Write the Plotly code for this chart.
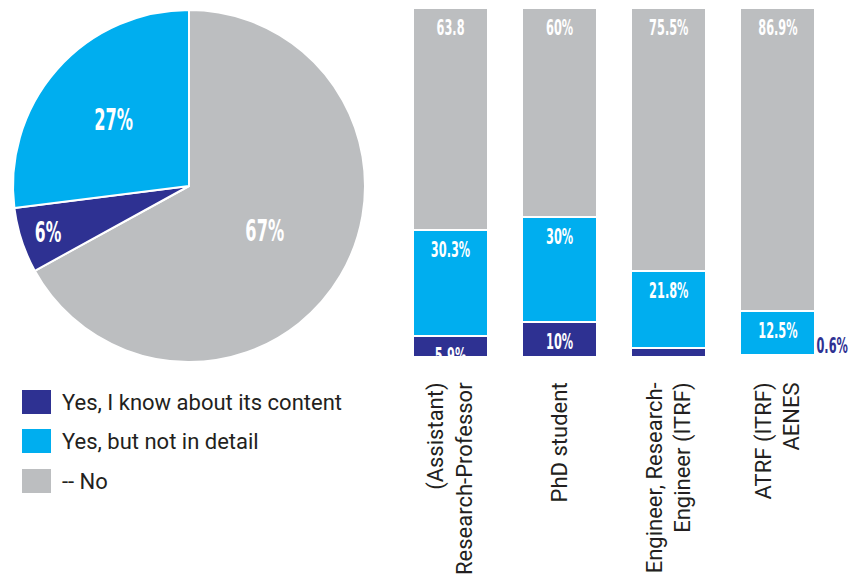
import plotly.graph_objects as go

W, H = 865, 576

# Overall answer shares (pie)
pie_labels = ["-- No", "Yes, I know about its content", "Yes, but not in detail"]
pie_values = [67, 6, 27]

# Breakdown by staff category (stacked bars)
categories = [
    "(Assistant)<br>Research-Professor",
    "PhD student",
    "Engineer, Research-<br>Engineer (ITRF)",
    "ATRF (ITRF)<br>AENES",
]
know_content = [5.9, 10, 2.7, 0.6]
not_in_detail = [30.3, 30, 21.8, 12.5]
no_answer = [63.8, 60, 75.5, 86.9]

know_text = ["5.9%", "10%", "", ""]
detail_text = ["30.3%", "30%", "21.8%", "12.5%"]
no_text = ["63.8", "60%", "75.5%", "86.9%"]

legend_labels = ["Yes, I know about its content", "Yes, but not in detail", "-- No"]

DARK = "#2E3192"
CYAN = "#00AEEF"
GREY = "#BCBEC0"
INK = "#231F20"
NUM_FONT = "DejaVu Sans Condensed"
TXT_FONT = "Roboto, Noto Sans, sans-serif"

colour_of = {"-- No": GREY, "Yes, I know about its content": DARK, "Yes, but not in detail": CYAN}


def px_x(v):
    return v / W


def px_y(v):
    return 1 - v / H


fig = go.Figure()

fig.add_trace(go.Pie(
    labels=pie_labels,
    values=pie_values,
    sort=False,
    direction="clockwise",
    rotation=0,
    marker=dict(colors=[colour_of[l] for l in pie_labels], line=dict(color="white", width=2)),
    texttemplate="%{value}%",
    textposition="inside",
    insidetextorientation="horizontal",
    textfont=dict(family=NUM_FONT, size=30, color="white", weight="bold"),
    domain=dict(x=[px_x(13), px_x(365)], y=[px_y(362), px_y(10)]),
    showlegend=False,
    hoverinfo="label+value",
))

for vals, txt, col in [(know_content, know_text, DARK),
                       (not_in_detail, detail_text, CYAN),
                       (no_answer, no_text, GREY)]:
    fig.add_trace(go.Bar(
        x=categories,
        y=vals,
        text=txt,
        textposition="inside",
        insidetextanchor="end",
        constraintext="none",
        textangle=0,
        textfont=dict(family=NUM_FONT, size=21, color="white", weight="bold"),
        marker=dict(color=col, line=dict(color="white", width=2)),
        showlegend=False,
        cliponaxis=True,
    ))

annotations = [
    dict(
        x=categories[3], y=know_content[3], xref="x", yref="y",
        text=f"{know_content[3]:g}%", showarrow=False,
        xanchor="center", yanchor="bottom", xshift=54, yshift=-5,
        font=dict(family=NUM_FONT, size=21, color=DARK, weight="bold"),
    )
]

shapes = []
legend_rows = [402, 441, 481]
for lab, yc in zip(legend_labels, legend_rows):
    shapes.append(dict(
        type="rect", xref="paper", yref="paper",
        x0=px_x(22), x1=px_x(51), y0=px_y(yc + 12), y1=px_y(yc - 12),
        fillcolor=colour_of[lab], line=dict(width=0),
    ))
    annotations.append(dict(
        x=px_x(60), y=px_y(yc), xref="paper", yref="paper",
        text=lab, showarrow=False, xanchor="left", yanchor="middle",
        font=dict(family=TXT_FONT, size=22, color=INK),
    ))

fig.update_layout(
    width=W, height=H,
    margin=dict(l=0, r=0, t=0, b=0),
    paper_bgcolor="white", plot_bgcolor="white",
    barmode="stack",
    bargap=0.312,
    xaxis=dict(
        domain=[px_x(396), px_x(832.5)],
        range=[-0.5, 3.5],
        showgrid=False, showline=False, zeroline=False, ticks="",
        tickangle=-90,
        ticklabelstandoff=20,
        tickfont=dict(family=TXT_FONT, size=22, color=INK),
    ),
    yaxis=dict(
        domain=[px_y(357), px_y(7.5)],
        range=[0, 100],
        visible=False,
    ),
    shapes=shapes,
    annotations=annotations,
)

# Narrow the bold number labels horizontally so they read as a condensed face,
# and drop the in-bar labels a little further below each segment's top edge
squeeze_js = """
var gd = document.getElementById('{plot_id}');
function squeeze() {
  gd.querySelectorAll('text').forEach(function (t) {
    var ff = t.style.fontFamily || '';
    if (ff.indexOf('Condensed') === -1 || t.getAttribute('data-squeezed')) return;
    var len = t.getComputedTextLength();
    if (len > 0) {
      t.setAttribute('textLength', (len * 0.6).toFixed(2));
      t.setAttribute('lengthAdjust', 'spacingAndGlyphs');
      t.setAttribute('data-squeezed', '1');
      if (t.classList.contains('bartext')) {
        t.setAttribute('transform', (t.getAttribute('transform') || '') + ' translate(0,5)');
      }
    }
  });
}
squeeze();
gd.on('plotly_afterplot', squeeze);
"""

fig.write_html("out.html", post_script=squeeze_js)
